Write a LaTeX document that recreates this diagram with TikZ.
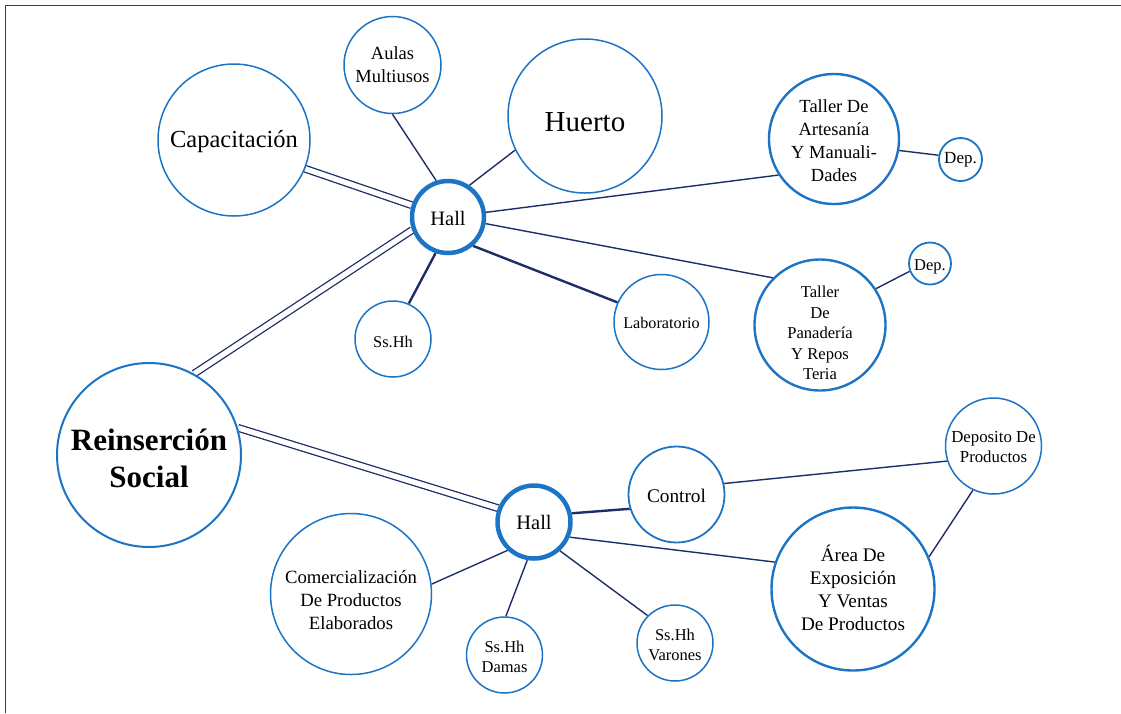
\documentclass[tikz,border=0pt]{standalone}
\usepackage{fontspec}
\setmainfont{Liberation Serif}
\pgfdeclarelayer{bg}
\pgfsetlayers{bg,main}
\definecolor{bubblue}{RGB}{28,117,196}
\definecolor{linknavy}{RGB}{30,45,105}
\definecolor{framegray}{RGB}{60,60,60}
\newcommand{\fs}[2]{\fontsize{#1pt}{#2pt}\selectfont}
\begin{document}
\begin{tikzpicture}[x=1pt,y=-1pt,
  bub/.style={circle, draw=bubblue, fill=white, line width=1.5pt, inner sep=0pt},
  hub/.style={bub, line width=4.5pt},
  mid/.style={bub, line width=2.4pt},
  lbl/.style={align=center, inner sep=0pt, text=black},
  link/.style={draw=linknavy, line width=1.4pt},
  heavy/.style={draw=linknavy, line width=2.4pt},
  twin/.style={draw=linknavy, line width=1.3pt, double=white, double distance=5.3pt}
]
\useasboundingbox (0,0) rectangle (1121,713);
\draw[framegray, line width=1.5pt] (5.5,713) -- (5.5,5.5) -- (1121,5.5);

% ---- bubbles ----
\node[bub, minimum size=152pt] (capa) at (234,140) {};
\node[bub, minimum size=97pt] (aulas) at (392.5,65) {};
\node[bub, minimum size=154pt] (huerto) at (585,116) {};
\node[hub, minimum size=72pt] (hallA) at (448,217) {};
\node[mid, minimum size=130pt] (arte) at (834,139) {};
\node[bub, line width=1.8pt, minimum size=43pt] (depA) at (960.5,159.5) {};
\node[bub, line width=1.8pt, minimum size=42pt] (depB) at (930,263.5) {};
\node[mid, minimum size=131pt] (pana) at (820,325) {};
\node[bub, minimum size=95pt] (lab) at (661.5,322) {};
\node[bub, minimum size=76pt] (ssA) at (393,339) {};
\node[bub, line width=2pt, minimum size=184pt] (rein) at (149,455) {};
\node[hub, minimum size=73pt] (hallB) at (534,522) {};
\node[bub, line width=1.8pt, minimum size=96pt] (control) at (676.5,494.5) {};
\node[bub, minimum size=96pt] (depo) at (993.5,446) {};
\node[mid, minimum size=163pt] (area) at (853,589) {};
\node[bub, minimum size=161pt] (comer) at (351,594) {};
\node[bub, minimum size=76pt] (damas) at (504.5,655) {};
\node[bub, minimum size=76pt] (varones) at (675,643) {};

% ---- labels ----
\node[lbl, font=\fs{24.5}{29}] (capa-t) at (234,142) {Capacitación};
\node[lbl, font=\fs{18.5}{23}] (aulas-t) at (392.5,65) {Aulas\\Multiusos};
\node[lbl, font=\fs{29}{34}] (huerto-t) at (585,122) {Huerto};
\node[lbl, font=\fs{20.5}{24}] (hallA-t) at (448,218) {Hall};
\node[lbl, font=\fs{18.5}{23}] (arte-t) at (834,141) {Taller De\\Artesanía\\Y Manuali-\\Dades};
\node[lbl, font=\fs{17}{20}] (depA-t) at (960.5,159.5) {Dep.};
\node[lbl, font=\fs{16.5}{20}] (depB-t) at (930,267) {Dep.};
\node[lbl, font=\fs{16.6}{20.4}] (pana-t) at (820,333) {Taller\\De\\Panadería\\Y Repos\\Teria};
\node[lbl, font=\fs{16.2}{20}] (lab-t) at (661.5,323) {Laboratorio};
\node[lbl, font=\fs{16.4}{20}] (ssA-t) at (393,342) {Ss.Hh};
\node[lbl, font=\bfseries\fs{31}{37}] (rein-t) at (149,458) {Reinserción\\Social};
\node[lbl, font=\fs{20.5}{24}] (hallB-t) at (534,522) {Hall};
\node[lbl, font=\fs{19.3}{23}] (control-t) at (676.5,496) {Control};
\node[lbl, font=\fs{16.8}{20}] (depo-t) at (993.5,447) {Deposito De\\Productos};
\node[lbl, font=\fs{19.2}{23}] (area-t) at (853,588) {Área De\\Exposición\\Y Ventas\\De Productos};
\node[lbl, font=\fs{18.7}{23}] (comer-t) at (351,600) {Comercialización\\De Productos\\Elaborados};
\node[lbl, font=\fs{16.5}{20}] (damas-t) at (504.5,657) {Ss.Hh\\Damas};
\node[lbl, font=\fs{16.5}{20}] (varones-t) at (675,645) {Ss.Hh\\Varones};

% ---- connectors ----
\begin{pgfonlayer}{bg}
\draw[twin] (capa.-22) -- (hallA.162);
\draw[twin] (rein.61.5) -- (hallA.200);
\draw[twin] (rein.17.6) -- (hallB.159);
\draw[link] (aulas.-90) -- (hallA.108);
\draw[link] (huerto.206) -- (hallA.56);
\draw[link] (hallA.7.5) -- (arte.213.7);
\draw[link] (arte.-10.5) -- (depA.169);
\draw[link] (hallA.-10) -- (pana.135);
\draw[link] (pana.33) -- (depB.201);
\draw[heavy] (hallA.-49) -- (lab.156);
\draw[heavy] (hallA.251) -- (ssA.66);
\draw[heavy] (hallB.13) -- (control.197);
\draw[link] (control.13) -- (depo.198);
\draw[link] (hallB.-23) -- (area.161.6);
\draw[link] (area.23) -- (depo.245);
\draw[link] (hallB.227) -- (comer.7.6);
\draw[link] (hallB.260) -- (damas.88);
\draw[link] (hallB.-48) -- (varones.135);
\end{pgfonlayer}
\end{tikzpicture}
\end{document}
